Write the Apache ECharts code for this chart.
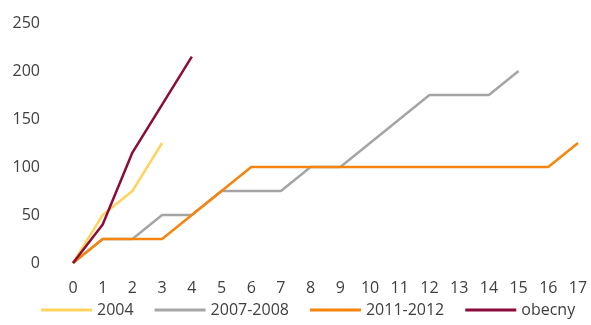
<!DOCTYPE html>
<html>
<head>
<meta charset="utf-8">
<script src="https://cdn.jsdelivr.net/npm/echarts@6/dist/echarts.min.js"></script>
<style>
  html, body { margin: 0; padding: 0; background: #fff; }
  #chart { width: 591px; height: 325px; }
</style>
</head>
<body>
<div id="chart"></div>
<script>
const categories = ['0', '1', '2', '3', '4', '5', '6', '7', '8', '9', '10', '11', '12', '13', '14', '15', '16', '17'];
const s2004 = [0, 50, 75, 125];
const s2007 = [0, 25, 25, 50, 50, 75, 75, 75, 100, 100, 125, 150, 175, 175, 175, 200];
const s2011 = [0, 25, 25, 25, 50, 75, 100, 100, 100, 100, 100, 100, 100, 100, 100, 100, 100, 125];
const sObecny = [0, 40, 115, 165, 215];

const font = 'Open Sans';
const textColor = '#404040';

const chart = echarts.init(document.getElementById('chart'));

function line(name, data, color) {
  return {
    name,
    type: 'line',
    data,
    symbol: 'none',
    smooth: false,
    lineStyle: { color, width: 2.5 },
    itemStyle: { color }
  };
}

const option = {
  animation: false,
  textStyle: { fontFamily: font, color: textColor },
  grid: { left: 73, right: 13, top: 23, bottom: 62, containLabel: false },
  legend: {
    left: 36,
    bottom: 2,
    icon: 'rect',
    itemWidth: 51,
    itemHeight: 3,
    itemGap: 21,
    textStyle: { fontFamily: font, fontSize: 16, color: textColor },
    data: ['2004', '2007-2008', '2011-2012', 'obecny']
  },
  xAxis: {
    type: 'category',
    data: categories,
    boundaryGap: false,
    axisLine: { show: false },
    axisTick: { show: false },
    axisLabel: { fontFamily: font, fontSize: 16, color: textColor, margin: 17, interval: 0 }
  },
  yAxis: {
    type: 'value',
    min: 0,
    max: 250,
    interval: 50,
    splitLine: { show: false },
    axisLine: { show: false },
    axisTick: { show: false },
    axisLabel: { fontFamily: font, fontSize: 16, color: textColor, margin: 33 }
  },
  series: [
    line('2004', s2004, '#FFD45E'),
    line('2007-2008', s2007, '#A5A5A5'),
    line('2011-2012', s2011, '#F5850C'),
    line('obecny', sObecny, '#8B0B3A')
  ]
};

chart.setOption(option);
</script>
</body>
</html>
